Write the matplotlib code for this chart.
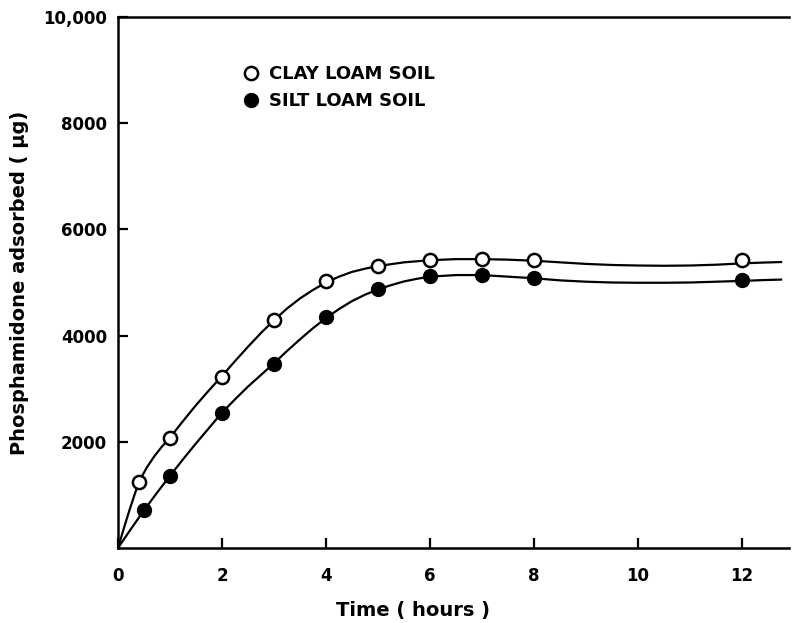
import numpy as np
import matplotlib
matplotlib.use("Agg")
import matplotlib.pyplot as plt

# measured points
clay_t = [0.4, 1, 2, 3, 4, 5, 6, 7, 8, 12]
clay_y = [1250, 2070, 3220, 4300, 5020, 5310, 5420, 5440, 5420, 5420]
silt_t = [0.5, 1, 2, 3, 4, 5, 6, 7, 8, 12]
silt_y = [710, 1360, 2550, 3470, 4350, 4870, 5130, 5140, 5080, 5040]

# fitted curves
clay_curve_t = [0, 0.1, 0.2, 0.3, 0.4, 0.55, 0.7, 0.85, 1, 1.25, 1.5, 1.75, 2, 2.25, 2.5,
                2.75, 3, 3.25, 3.5, 3.75, 4, 4.25, 4.5, 4.75, 5, 5.5, 6, 6.5, 7, 7.5, 8,
                8.5, 9, 9.5, 10, 10.5, 11, 11.5, 12, 12.4, 12.75]
clay_curve_y = [0, 330, 650, 950, 1240, 1510, 1730, 1915, 2080, 2390, 2690, 2970, 3240,
                3520, 3790, 4050, 4290, 4510, 4700, 4860, 5000, 5110, 5200, 5260, 5310,
                5380, 5420, 5440, 5440, 5430, 5410, 5380, 5350, 5330, 5320, 5315, 5320,
                5335, 5360, 5375, 5385]
silt_curve_t = [0, 0.25, 0.5, 0.75, 1, 1.25, 1.5, 1.75, 2, 2.25, 2.5, 2.75, 3, 3.25, 3.5,
                3.75, 4, 4.25, 4.5, 4.75, 5, 5.25, 5.5, 5.75, 6, 6.5, 7, 7.5, 8, 8.5, 9,
                9.5, 10, 10.5, 11, 11.5, 12, 12.4, 12.75]
silt_curve_y = [0, 360, 710, 1040, 1360, 1670, 1970, 2260, 2550, 2800, 3040, 3260, 3480,
                3710, 3930, 4140, 4330, 4500, 4650, 4770, 4870, 4950, 5020, 5070, 5110,
                5140, 5140, 5110, 5080, 5040, 5015, 5000, 4995, 4995, 5000, 5015, 5030,
                5045, 5055]

xticks = [0, 2, 4, 6, 8, 10, 12]
yticks = [2000, 4000, 6000, 8000, 10000]
ylabels = ["2000", "4000", "6000", "8000", "10,000"]

plt.rcParams['font.family'] = 'DejaVu Sans'
plt.rcParams['font.weight'] = 'bold'

fig = plt.figure(figsize=(7.93, 6.23), dpi=100)
ax = fig.add_axes([0.1488, 0.1204, 0.846, 0.8523])

ax.plot(clay_curve_t, clay_curve_y, color='black', lw=1.6, zorder=2)
ax.plot(silt_curve_t, silt_curve_y, color='black', lw=1.6, zorder=2)
ax.plot(clay_t, clay_y, 'o', ms=9.5, mfc='white', mec='black', mew=1.8, zorder=3,
        label='CLAY LOAM SOIL')
ax.plot(silt_t, silt_y, 'o', ms=10, mfc='black', mec='black', zorder=3,
        label='SILT LOAM SOIL')

ax.set_xlim(0, 12.9)
ax.set_ylim(0, 10000)
ax.set_xticks(xticks)
ax.set_xticklabels([str(t) for t in xticks], fontsize=12, fontweight='bold')
ax.set_yticks(yticks)
ax.set_yticklabels(ylabels, fontsize=12, fontweight='bold')
ax.tick_params(direction='in', length=7, width=1.6, pad=8)
ax.tick_params(axis='x', pad=14)

for s in ['left', 'bottom', 'top']:
    ax.spines[s].set_linewidth(1.8)
ax.spines['right'].set_visible(False)

ax.set_xlabel('Time ( hours )', fontsize=14, fontweight='bold')
ax.xaxis.set_label_coords(0.44, -0.1)
ax.set_ylabel('Phosphamidone adsorbed ( μg)', fontsize=14, fontweight='bold')
ax.yaxis.set_label_coords(-0.132, 0.5)

leg = ax.legend(loc='upper left', bbox_to_anchor=(0.16, 0.94), frameon=False,
                prop={'size': 13, 'weight': 'bold'}, handletextpad=0.5,
                labelspacing=0.5, handlelength=1.0, markerscale=1.0)

fig.savefig('out.png', dpi=100)
